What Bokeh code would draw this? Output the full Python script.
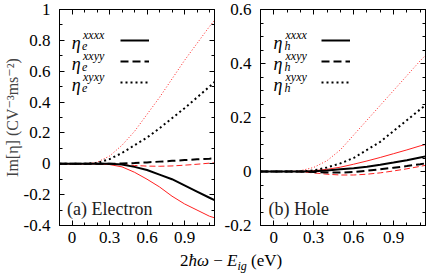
from bokeh.plotting import figure
from bokeh.layouts import row, column
from bokeh.models import (Range1d, FixedTicker, LinearAxis, Label, Legend,
                          LegendItem, Div, CustomJSTickFormatter)
from bokeh.embed import file_html
from bokeh.resources import INLINE

# ---------------- data ----------------
energy = [-0.1, 0.0, 0.1, 0.2, 0.3, 0.4, 0.5, 0.6, 0.7, 0.8, 0.9, 1.0, 1.1, 1.14]

# (a) Electron - black (thick) curves
e_xxxx = [0, 0, 0, 0, 0.0, -0.005, -0.02, -0.04, -0.07, -0.10, -0.14, -0.18, -0.22, -0.235]
e_xxyy = [0, 0, 0, 0, 0.0, 0.002, 0.005, 0.009, 0.014, 0.019, 0.024, 0.029, 0.033, 0.035]
e_xyxy = [0, 0, 0, 0.005, 0.03, 0.07, 0.12, 0.17, 0.23, 0.295, 0.36, 0.43, 0.50, 0.53]
# (a) Electron - red (thin) curves
e_xxxx_red = [0, 0, 0, -0.001, -0.005, -0.02, -0.055, -0.10, -0.15, -0.21, -0.26, -0.30, -0.34, -0.35]
e_xxyy_red = [0, 0, 0, 0, -0.002, -0.006, -0.011, -0.015, -0.016, -0.014, -0.009, -0.003, 0.004, 0.006]
e_xyxy_red = [0, 0, 0, 0.01, 0.05, 0.12, 0.21, 0.32, 0.43, 0.55, 0.67, 0.78, 0.89, 0.93]

# (b) Hole - black (thick) curves
h_xxxx = [0, 0, 0, 0, 0.001, 0.004, 0.008, 0.012, 0.018, 0.025, 0.033, 0.042, 0.052, 0.056]
h_xxyy = [0, 0, 0, 0, -0.002, -0.004, -0.004, -0.002, 0.003, 0.008, 0.014, 0.02, 0.027, 0.03]
h_xyxy = [0, 0, 0, 0, 0.004, 0.015, 0.03, 0.05, 0.08, 0.11, 0.15, 0.19, 0.23, 0.245]
# (b) Hole - red (thin) curves
h_xxxx_red = [0, 0, 0, 0, 0.003, 0.008, 0.016, 0.027, 0.039, 0.052, 0.066, 0.08, 0.095, 0.10]
h_xxyy_red = [0, 0, 0, -0.001, -0.005, -0.01, -0.013, -0.013, -0.01, -0.005, 0.002, 0.01, 0.019, 0.023]
h_xyxy_red = [0, 0, 0, 0.003, 0.015, 0.04, 0.08, 0.135, 0.19, 0.245, 0.30, 0.355, 0.41, 0.43]

x_range = (-0.1, 1.14)
x_major = [0, 0.3, 0.6, 0.9]
x_minor = [0.1, 0.2, 0.4, 0.5, 0.7, 0.8, 1.0, 1.1]

ya_range = (-0.4, 1.0)
ya_major = [-0.4, -0.2, 0, 0.2, 0.4, 0.6, 0.8, 1]
ya_minor = [-0.3, -0.1, 0.1, 0.3, 0.5, 0.7, 0.9]

yb_range = (-0.2, 0.6)
yb_major = [-0.2, 0, 0.2, 0.4, 0.6]
yb_minor = [-0.15, -0.1, -0.05, 0.05, 0.1, 0.15, 0.25, 0.3, 0.35, 0.45, 0.5, 0.55]

components = ["xxxx", "xxyy", "xyxy"]
panel_titles = ["(a) Electron", "(b) Hole"]
carrier_sub = ["e", "h"]
y_title = "Im[η] (CV⁻³ms⁻²)"

# ---------------- styling ----------------
FONT = "'Liberation Serif', 'Times New Roman', 'DejaVu Serif', serif"
FRAME_W, FRAME_H = 165, 216
TOP, BOTTOM = 9, 26
ROW = 21
dash_styles = ["solid", "8 4", "2 3"]
red_dash_styles = ["solid", "6 3", "1 2"]

fmt = CustomJSTickFormatter(code="return (Math.round(tick*100)/100).toString();")


def blank():
    return CustomJSTickFormatter(code="return '';")


def style_axis(ax, labels=True):
    ax.axis_line_color = "black"
    ax.axis_line_width = 1
    ax.major_tick_in = 5
    ax.major_tick_out = 0
    ax.minor_tick_in = 3
    ax.minor_tick_out = 0
    ax.major_tick_line_color = "black"
    ax.minor_tick_line_color = "black"
    ax.major_label_text_font = FONT
    ax.major_label_text_font_size = "17px"
    ax.major_label_text_color = "black"
    if not labels:
        ax.formatter = blank()
        ax.major_label_standoff = 0
        ax.major_label_text_font_size = "1px"


def make_panel(idx, yr, ymaj, ymin, black, red, left_border, right_border):
    p = figure(width=left_border + FRAME_W + right_border, height=TOP + FRAME_H + BOTTOM,
               x_range=Range1d(*x_range), y_range=Range1d(*yr),
               output_backend="svg", toolbar_location=None,
               min_border_left=left_border, min_border_right=right_border,
               min_border_top=TOP, min_border_bottom=BOTTOM,
               background_fill_color="white", border_fill_color="white")
    p.grid.visible = False
    p.outline_line_color = "black"
    xt = FixedTicker(ticks=x_major, minor_ticks=x_minor)
    yt = FixedTicker(ticks=ymaj, minor_ticks=ymin)

    p.xaxis.ticker = xt
    p.xaxis.formatter = fmt
    p.yaxis.ticker = yt
    p.yaxis.formatter = fmt
    for ax in p.xaxis:
        style_axis(ax)
        ax.major_label_standoff = 6
    for ax in p.yaxis:
        style_axis(ax)
        ax.major_label_standoff = 9
    top_ax = LinearAxis(ticker=xt)
    style_axis(top_ax, labels=False)
    right_ax = LinearAxis(ticker=yt)
    style_axis(right_ax, labels=False)
    p.add_layout(top_ax, "above")
    p.add_layout(right_ax, "right")

    for ys, dash in zip(red, red_dash_styles):
        p.line(energy, ys, line_color="#ff2020", line_width=1, line_dash=dash)
    renderers = []
    for ys, dash in zip(black, dash_styles):
        r = p.line(energy, ys, line_color="black", line_width=2, line_dash=dash)
        renderers.append(r)

    # helpers: frame-pixel offsets -> data coordinates (annotation placement)
    def dx(px):
        return x_range[0] + px / FRAME_W * (x_range[1] - x_range[0])

    def dy(py):
        return yr[1] - py / FRAME_H * (yr[1] - yr[0])

    # legend: text (left) + line samples (right), gnuplot style
    items = [LegendItem(label="", renderers=[r]) for r in renderers]
    leg_h = 3 * 20 + 2
    leg = Legend(items=items, location=(61, FRAME_H - 21 - leg_h), glyph_width=29,
                 glyph_height=20, label_height=20, label_width=0, label_standoff=0,
                 spacing=1, padding=0, margin=0, border_line_color=None,
                 background_fill_alpha=0, label_text_font_size="8px")
    p.add_layout(leg)

    for k, comp in enumerate(components):
        base = 33 + ROW * k
        p.add_layout(Label(x=dx(13), y=dy(base), text="η", text_font=FONT,
                           text_font_style="italic", text_font_size="18px",
                           text_baseline="alphabetic", text_color="black"))
        p.add_layout(Label(x=dx(24), y=dy(base + 3), text=carrier_sub[idx], text_font=FONT,
                           text_font_style="italic", text_font_size="12px",
                           text_baseline="alphabetic", text_color="black"))
        p.add_layout(Label(x=dx(25), y=dy(base - 8), text=comp, text_font=FONT,
                           text_font_style="italic", text_font_size="12px",
                           text_baseline="alphabetic", text_color="black"))

    p.add_layout(Label(x=dx(8), y=dy(199), text=panel_titles[idx], text_font=FONT,
                       text_font_size="18px", text_baseline="alphabetic",
                       text_color="#222222"))
    return p


pa = make_panel(0, ya_range, ya_major, ya_minor,
                [e_xxxx, e_xxyy, e_xyxy], [e_xxxx_red, e_xxyy_red, e_xyxy_red], 49, 2)
pa.yaxis[0].axis_label = y_title
pa.yaxis[0].axis_label_text_font = FONT
pa.yaxis[0].axis_label_text_font_size = "16px"
pa.yaxis[0].axis_label_text_font_style = "normal"
pa.yaxis[0].axis_label_standoff = 0

pb = make_panel(1, yb_range, yb_major, yb_minor,
                [h_xxxx, h_xxyy, h_xyxy], [h_xxxx_red, h_xxyy_red, h_xyxy_red], 44, 3)

xt_div = Div(text=('<span style="font-family:\'Liberation Serif\', \'Times New Roman\', serif;'
                   'font-size:17px;color:black;">'
                   '2<i>ħω</i> − <i>E</i><sub style="font-size:12px"><i>ig</i></sub> (eV)</span>'),
             width=428, height=22, margin=(0, 0, 0, 0),
             styles={"padding-left": "180px", "line-height": "20px"})

layout = column(row(pa, pb, spacing=0), xt_div, spacing=0)
open("out.html", "w").write(file_html(layout, INLINE))
